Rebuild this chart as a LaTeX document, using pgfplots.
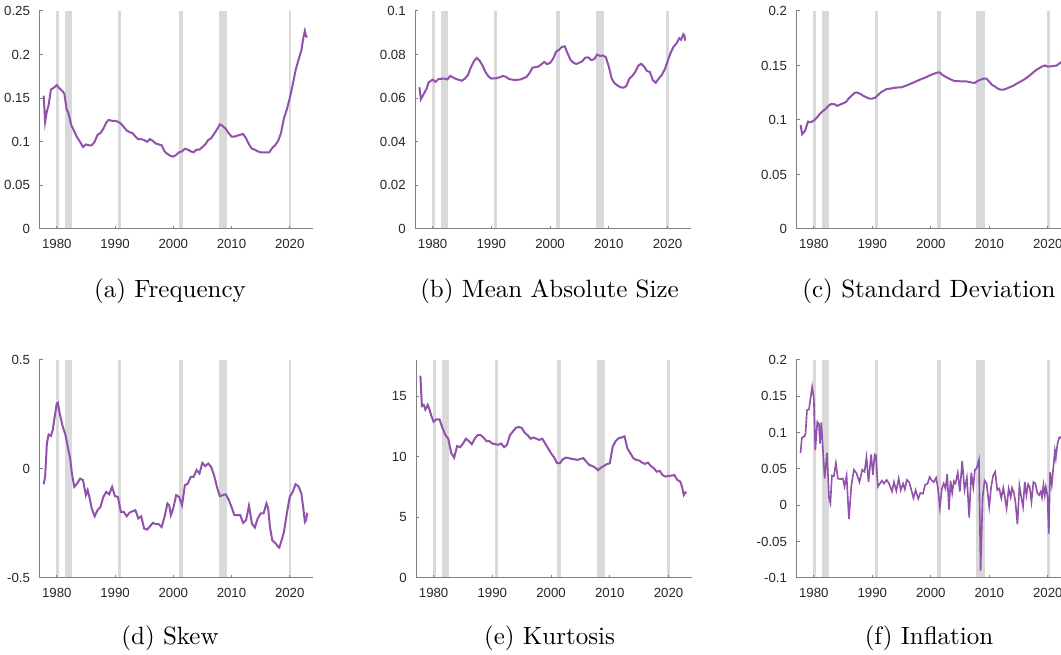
\documentclass[border=0pt]{standalone}
\usepackage{fontspec}
\usepackage{pgfplots}
\pgfplotsset{compat=1.18}
\newfontfamily\ticksf{Liberation Sans}
\definecolor{recess}{RGB}{217,217,217}
\definecolor{linec}{RGB}{145,82,172}
\definecolor{axc}{RGB}{128,128,128}
\definecolor{tickc}{RGB}{38,38,38}
\pgfplotsset{
  panel/.style={
    scale only axis,
    height=87.2pt,
    xmin=1977, xmax=2024,
    axis x line*=bottom, axis y line*=left,
    axis line style={axc, line width=0.4pt},
    tick style={axc, line width=0.4pt},
    major tick length=1.3pt,
    tick align=inside,
    xtick={1980,1990,2000,2010,2020},
    xticklabels={1980,1990,2000,2010,2020},
    tick label style={font=\ticksf\fontsize{5.3}{6}\selectfont, text=tickc},
    xticklabel style={yshift=-0.6pt},
    yticklabel style={xshift=-0.2pt},
    axis on top,
    anchor=south west,
  },
  ser/.style={color=linec, line width=0.8pt, mark=none},
}
\newcommand{\recessions}[2]{%
 \addplot[fill=recess,draw=none,forget plot] coordinates {(1979.85,#1)(1980.4,#1)(1980.4,#2)(1979.85,#2)} -- cycle;
 \addplot[fill=recess,draw=none,forget plot] coordinates {(1981.4,#1)(1982.6,#1)(1982.6,#2)(1981.4,#2)} -- cycle;
 \addplot[fill=recess,draw=none,forget plot] coordinates {(1990.5,#1)(1990.95,#1)(1990.95,#2)(1990.5,#2)} -- cycle;
 \addplot[fill=recess,draw=none,forget plot] coordinates {(2001.0,#1)(2001.75,#1)(2001.75,#2)(2001.0,#2)} -- cycle;
 \addplot[fill=recess,draw=none,forget plot] coordinates {(2007.8,#1)(2009.2,#1)(2009.2,#2)(2007.8,#2)} -- cycle;
 \addplot[fill=recess,draw=none,forget plot] coordinates {(2019.8,#1)(2020.3,#1)(2020.3,#2)(2019.8,#2)} -- cycle;
}
\begin{document}
\begin{tikzpicture}[x=1pt,y=1pt]
\useasboundingbox (0,0) rectangle (424.4,261.6);
\clip (0,0) rectangle (424.4,261.6);

% (a) Frequency
\begin{axis}[panel, at={(15.72pt,170pt)}, width=109.5pt,
  ymin=0, ymax=0.25, ytick={0,0.05,0.1,0.15,0.2,0.25},
  yticklabels={0,0.05,0.1,0.15,0.2,0.25}]
\recessions{0}{0.25}
\addplot[ser] coordinates {(1977.75,0.153)(1978.0,0.123)(1978.3,0.135)(1978.6,0.142)(1979.0,0.160)(1979.5,0.162)(1980.0,0.165)(1980.5,0.161)(1981.0,0.158)(1981.3,0.155)(1981.7,0.137)(1982.0,0.133)(1982.5,0.119)(1983.0,0.112)(1983.5,0.105)(1984.0,0.100)(1984.5,0.094)(1985.0,0.097)(1985.5,0.096)(1986.0,0.096)(1986.5,0.100)(1987.0,0.108)(1987.5,0.110)(1988.0,0.115)(1988.5,0.122)(1988.9,0.125)(1989.5,0.124)(1990.0,0.124)(1990.5,0.123)(1991.0,0.121)(1991.5,0.117)(1992.0,0.113)(1992.5,0.111)(1993.0,0.110)(1993.5,0.106)(1994.0,0.103)(1994.5,0.103)(1995.0,0.102)(1995.5,0.100)(1996.0,0.103)(1996.5,0.101)(1997.0,0.098)(1997.5,0.097)(1998.0,0.096)(1998.5,0.089)(1999.0,0.086)(1999.5,0.084)(2000.0,0.083)(2000.5,0.085)(2001.0,0.088)(2001.5,0.089)(2002.0,0.092)(2002.5,0.091)(2003.0,0.089)(2003.5,0.088)(2004.0,0.091)(2004.5,0.091)(2005.0,0.094)(2005.5,0.097)(2006.0,0.102)(2006.5,0.104)(2007.0,0.109)(2007.5,0.114)(2008.0,0.120)(2008.5,0.118)(2009.0,0.115)(2009.5,0.110)(2010.0,0.106)(2010.5,0.106)(2011.0,0.107)(2011.5,0.108)(2012.0,0.109)(2012.5,0.104)(2013.0,0.097)(2013.5,0.092)(2014.0,0.091)(2014.5,0.089)(2015.0,0.088)(2015.5,0.088)(2016.0,0.088)(2016.5,0.088)(2017.0,0.093)(2017.5,0.096)(2018.0,0.101)(2018.5,0.110)(2019.0,0.127)(2019.5,0.137)(2020.0,0.150)(2020.5,0.165)(2021.0,0.182)(2021.5,0.194)(2022.0,0.205)(2022.3,0.218)(2022.6,0.227)(2022.8,0.221)(2023.0,0.220)};
\end{axis}

% (b) Mean Absolute Size
\begin{axis}[panel, at={(166pt,170pt)}, width=110.4pt,
  ymin=0, ymax=0.1, ytick={0,0.02,0.04,0.06,0.08,0.1},
  yticklabels={0,0.02,0.04,0.06,0.08,0.1}]
\recessions{0}{0.1}
\addplot[ser] coordinates {(1977.75,0.065)(1978.0,0.0595)(1978.5,0.062)(1979.0,0.0645)(1979.3,0.0672)(1980.0,0.0685)(1980.5,0.0675)(1981.0,0.0688)(1982.0,0.069)(1982.5,0.0686)(1983.0,0.0702)(1984.0,0.0688)(1985.0,0.0680)(1985.5,0.069)(1986.0,0.0706)(1986.5,0.0740)(1987.0,0.0768)(1987.5,0.0785)(1988.0,0.0772)(1988.5,0.0750)(1989.0,0.0720)(1989.5,0.0700)(1990.0,0.0690)(1991.0,0.0692)(1992.0,0.0702)(1992.5,0.0698)(1993.0,0.0688)(1994.0,0.0683)(1995.0,0.0686)(1996.0,0.0698)(1996.5,0.0715)(1997.0,0.0740)(1998.0,0.0745)(1998.5,0.0755)(1999.0,0.0766)(1999.5,0.0756)(2000.0,0.0762)(2000.5,0.0780)(2001.0,0.0812)(2001.5,0.0822)(2002.0,0.0835)(2002.5,0.0838)(2003.0,0.0805)(2003.5,0.0775)(2004.0,0.0762)(2004.5,0.0757)(2005.0,0.0763)(2005.5,0.0770)(2006.0,0.0786)(2006.5,0.0787)(2007.0,0.0775)(2007.5,0.0778)(2008.0,0.0800)(2008.5,0.0794)(2009.0,0.0796)(2009.5,0.0788)(2010.0,0.0745)(2010.5,0.0690)(2011.0,0.0668)(2011.5,0.0658)(2012.0,0.0650)(2012.5,0.0648)(2013.0,0.0656)(2013.5,0.0690)(2014.0,0.0702)(2014.5,0.0720)(2015.0,0.0748)(2015.5,0.0758)(2016.0,0.0745)(2016.5,0.0725)(2017.0,0.0720)(2017.5,0.0683)(2018.0,0.0671)(2018.5,0.0690)(2019.0,0.0706)(2019.5,0.0730)(2020.0,0.0768)(2020.5,0.0806)(2021.0,0.0835)(2021.5,0.0850)(2022.0,0.0875)(2022.3,0.0868)(2022.7,0.0893)(2022.9,0.0885)(2023.0,0.0864)};
\end{axis}

% (c) Standard Deviation
\begin{axis}[panel, at={(318.5pt,170pt)}, width=110pt,
  ymin=0, ymax=0.2, ytick={0,0.05,0.1,0.15,0.2},
  yticklabels={0,0.05,0.1,0.15,0.2}]
\recessions{0}{0.2}
\addplot[ser] coordinates {(1977.75,0.0954)(1978.0,0.0870)(1978.5,0.0900)(1979.0,0.0985)(1979.5,0.0980)(1980.0,0.0995)(1980.5,0.1020)(1981.0,0.1055)(1981.5,0.1080)(1982.0,0.1100)(1982.5,0.1130)(1983.0,0.1147)(1983.5,0.1145)(1984.0,0.1130)(1985.0,0.1153)(1985.5,0.1165)(1986.0,0.1200)(1986.5,0.1225)(1987.0,0.1250)(1987.5,0.1250)(1988.0,0.1238)(1988.5,0.1220)(1989.0,0.1208)(1989.5,0.1195)(1990.0,0.1196)(1990.5,0.1205)(1991.0,0.1230)(1991.5,0.1255)(1992.0,0.1270)(1992.5,0.1285)(1993.0,0.1287)(1994.0,0.1297)(1995.0,0.1300)(1996.0,0.1320)(1997.0,0.1343)(1998.0,0.1367)(1999.0,0.1388)(2000.0,0.1413)(2001.0,0.1434)(2001.5,0.1437)(2002.0,0.1413)(2003.0,0.1382)(2004.0,0.1358)(2005.0,0.1355)(2006.0,0.1355)(2007.0,0.1343)(2007.5,0.1340)(2008.0,0.1358)(2009.0,0.1380)(2009.5,0.1380)(2010.0,0.1350)(2010.5,0.1320)(2011.0,0.1306)(2011.5,0.1285)(2012.0,0.1278)(2012.5,0.1278)(2013.0,0.1290)(2014.0,0.1312)(2015.0,0.1343)(2016.0,0.1373)(2017.0,0.1413)(2018.0,0.1459)(2019.0,0.1490)(2019.5,0.1500)(2020.0,0.1490)(2020.5,0.1492)(2021.0,0.1495)(2021.5,0.1500)(2022.0,0.1520)(2022.5,0.1540)(2023.0,0.1550)};
\end{axis}

% (d) Skew
\begin{axis}[panel, at={(15.72pt,30.4pt)}, width=109.5pt,
  ymin=-0.5, ymax=0.5, ytick={-0.5,0,0.5},
  yticklabels={-0.5,0,0.5}]
\recessions{-0.5}{0.5}
\addplot[ser] coordinates {(1977.75,-0.070)(1978.0,-0.036)(1978.3,0.117)(1978.6,0.158)(1979.0,0.152)(1979.3,0.178)(1979.6,0.232)(1980.0,0.301)(1980.2,0.304)(1980.5,0.255)(1981.0,0.197)(1981.5,0.155)(1982.0,0.087)(1982.3,0.048)(1982.6,-0.021)(1983.0,-0.082)(1983.5,-0.067)(1984.0,-0.044)(1984.5,-0.051)(1985.0,-0.120)(1985.3,-0.097)(1985.6,-0.128)(1986.0,-0.181)(1986.5,-0.217)(1987.0,-0.189)(1987.5,-0.174)(1988.0,-0.128)(1988.5,-0.105)(1989.0,-0.116)(1989.5,-0.082)(1990.0,-0.125)(1990.5,-0.128)(1991.0,-0.197)(1991.5,-0.197)(1992.0,-0.217)(1992.5,-0.200)(1993.0,-0.194)(1993.5,-0.189)(1994.0,-0.227)(1994.5,-0.217)(1995.0,-0.273)(1995.5,-0.278)(1996.0,-0.263)(1996.5,-0.247)(1997.0,-0.253)(1997.5,-0.253)(1998.0,-0.266)(1998.5,-0.220)(1999.0,-0.158)(1999.3,-0.166)(1999.6,-0.212)(2000.0,-0.181)(2000.5,-0.120)(2001.0,-0.128)(2001.5,-0.166)(2002.0,-0.074)(2002.5,-0.067)(2003.0,-0.036)(2003.5,-0.036)(2004.0,-0.005)(2004.5,-0.021)(2005.0,0.028)(2005.5,0.013)(2006.0,0.025)(2006.5,0.010)(2007.0,-0.028)(2007.5,-0.082)(2008.0,-0.125)(2008.5,-0.120)(2009.0,-0.116)(2009.5,-0.140)(2010.0,-0.174)(2010.5,-0.212)(2011.0,-0.212)(2011.5,-0.212)(2012.0,-0.247)(2012.5,-0.235)(2013.0,-0.169)(2013.5,-0.250)(2014.0,-0.269)(2014.5,-0.227)(2015.0,-0.204)(2015.5,-0.204)(2016.0,-0.158)(2016.3,-0.181)(2016.6,-0.266)(2017.0,-0.327)(2017.5,-0.339)(2018.0,-0.357)(2018.2,-0.361)(2018.6,-0.327)(2019.0,-0.289)(2019.5,-0.204)(2020.0,-0.128)(2020.5,-0.105)(2021.0,-0.070)(2021.5,-0.079)(2022.0,-0.113)(2022.3,-0.174)(2022.6,-0.243)(2022.8,-0.235)(2023.0,-0.201)};
\end{axis}

% (e) Kurtosis
\begin{axis}[panel, at={(166.4pt,30.4pt)}, width=110.4pt,
  ymin=0, ymax=18, ytick={0,5,10,15},
  yticklabels={0,5,10,15}]
\recessions{0}{18}
\addplot[ser] coordinates {(1977.75,16.7)(1978.0,14.2)(1978.3,14.3)(1978.6,13.9)(1979.0,14.3)(1979.3,13.9)(1979.6,13.4)(1980.0,12.9)(1980.5,13.1)(1981.0,13.1)(1981.5,12.4)(1982.0,11.8)(1982.5,11.5)(1983.0,10.3)(1983.5,9.94)(1984.0,10.9)(1984.5,10.8)(1985.0,11.1)(1985.5,11.5)(1986.0,11.3)(1986.5,11.05)(1987.0,11.5)(1987.5,11.8)(1988.0,11.8)(1988.5,11.6)(1989.0,11.3)(1989.5,11.3)(1990.0,11.1)(1990.5,11.05)(1991.0,11.0)(1991.5,11.1)(1992.0,10.8)(1992.5,11.0)(1993.0,11.8)(1993.5,12.1)(1994.0,12.4)(1994.5,12.46)(1995.0,12.4)(1995.5,12.0)(1996.0,11.8)(1996.5,11.5)(1997.0,11.6)(1997.5,11.5)(1998.0,11.4)(1998.5,11.5)(1999.0,11.1)(1999.5,10.7)(2000.0,10.3)(2000.5,9.97)(2001.0,9.5)(2001.5,9.47)(2002.0,9.8)(2002.5,9.94)(2003.0,9.9)(2003.5,9.83)(2004.0,9.8)(2004.5,9.75)(2005.0,9.83)(2005.5,9.9)(2006.0,9.6)(2006.5,9.34)(2007.0,9.25)(2007.5,9.12)(2008.0,8.9)(2008.5,9.12)(2009.0,9.25)(2009.5,9.4)(2010.0,9.47)(2010.5,10.86)(2011.0,11.3)(2011.5,11.55)(2012.0,11.6)(2012.5,11.7)(2013.0,10.7)(2013.5,10.3)(2014.0,9.9)(2014.5,9.75)(2015.0,9.7)(2015.5,9.53)(2016.0,9.42)(2016.5,9.53)(2017.0,9.25)(2017.5,9.06)(2018.0,8.78)(2018.5,8.84)(2019.0,8.5)(2019.5,8.37)(2020.0,8.43)(2020.5,8.45)(2021.0,8.5)(2021.5,8.1)(2022.0,7.96)(2022.3,7.54)(2022.6,6.85)(2022.8,6.99)(2023.0,7.13)};
\end{axis}

% (f) Inflation
\begin{axis}[panel, at={(318.5pt,30.4pt)}, width=110pt,
  ymin=-0.1, ymax=0.2, ytick={-0.1,-0.05,0,0.05,0.1,0.15,0.2},
  yticklabels={-0.1,-0.05,0,0.05,0.1,0.15,0.2}]
\recessions{-0.1}{0.2}
\addplot[ser, line width=0.65pt] coordinates {(1977.73,0.072)(1977.96,0.093)(1978.42,0.095)(1978.59,0.099)(1978.83,0.131)(1979.17,0.132)(1979.72,0.163)(1980.0,0.147)(1980.25,0.076)(1980.6,0.115)(1980.88,0.112)(1981.05,0.085)(1981.28,0.114)(1981.85,0.037)(1982.25,0.072)(1982.6,0.010)(1982.83,0.003)(1983.1,0.041)(1983.42,0.040)(1983.77,0.058)(1984.1,0.037)(1984.56,0.036)(1984.96,0.037)(1985.25,0.026)(1985.6,0.041)(1986.0,-0.019)(1986.4,0.026)(1986.85,0.049)(1987.3,0.044)(1987.8,0.032)(1988.27,0.049)(1988.67,0.046)(1989.0,0.066)(1989.35,0.032)(1989.8,0.070)(1990.1,0.042)(1990.4,0.070)(1990.6,0.069)(1990.95,0.026)(1991.3,0.030)(1991.65,0.034)(1992.0,0.030)(1992.45,0.035)(1992.85,0.030)(1993.37,0.019)(1993.7,0.032)(1994.1,0.020)(1994.5,0.037)(1994.85,0.021)(1995.25,0.030)(1995.55,0.022)(1995.9,0.035)(1996.3,0.032)(1996.58,0.024)(1997.03,0.010)(1997.4,0.021)(1997.85,0.009)(1998.2,0.017)(1998.66,0.016)(1999.0,0.028)(1999.45,0.030)(1999.8,0.039)(2000.18,0.034)(2000.5,0.032)(2000.9,0.038)(2001.2,0.025)(2001.54,-0.003)(2001.88,0.023)(2002.2,0.030)(2002.5,0.023)(2002.8,0.043)(2003.1,-0.006)(2003.37,0.034)(2003.65,0.017)(2003.93,0.033)(2004.2,0.030)(2004.6,0.045)(2004.96,0.019)(2005.36,0.061)(2005.76,0.021)(2006.16,0.038)(2006.56,-0.017)(2006.9,0.045)(2007.25,0.025)(2007.53,0.049)(2007.82,0.051)(2008.22,0.063)(2008.5,-0.090)(2008.84,0.010)(2009.18,0.034)(2009.53,0.030)(2009.98,-0.002)(2010.3,0.025)(2010.65,0.041)(2011.0,0.046)(2011.35,0.021)(2011.7,0.023)(2012.04,0.010)(2012.38,0.024)(2012.6,0.014)(2012.95,-0.004)(2013.3,0.023)(2013.65,0.011)(2013.87,0.024)(2014.2,0.017)(2014.45,0.005)(2014.8,-0.026)(2015.14,0.027)(2015.48,0.010)(2015.76,-0.002)(2016.05,0.032)(2016.33,0.014)(2016.62,0.029)(2016.9,0.025)(2017.2,0.005)(2017.53,0.032)(2017.87,0.030)(2018.2,0.017)(2018.5,0.014)(2018.8,0.019)(2019.0,0.011)(2019.25,0.028)(2019.47,0.014)(2019.65,0.025)(2019.93,0.014)(2020.16,-0.039)(2020.38,0.046)(2020.67,0.028)(2020.9,0.049)(2021.2,0.075)(2021.36,0.065)(2021.65,0.085)(2021.93,0.093)(2022.2,0.094)(2022.5,0.088)(2022.8,0.075)(2023.0,0.060)};
\end{axis}

% captions
\node[anchor=base] at (68,142.7) {(a) Frequency};
\node[anchor=base] at (219.8,142.7) {(b) Mean Absolute Size};
\node[anchor=base] at (371.6,142.7) {(c) Standard Deviation};
\node[anchor=base] at (68,3.6) {(d) Skew};
\node[anchor=base] at (219.8,3.6) {(e) Kurtosis};
\node[anchor=base] at (371.6,3.6) {(f) Inflation};
\end{tikzpicture}
\end{document}
